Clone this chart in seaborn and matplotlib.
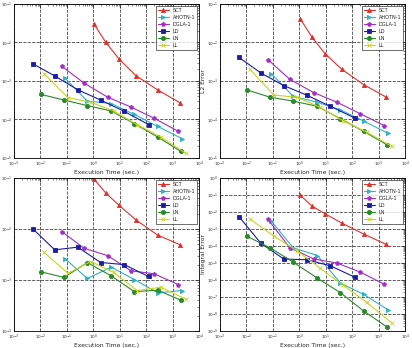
#! /usr/bin/env python3

import seaborn as sns
import pandas as pd
import numpy as np
import matplotlib
matplotlib.use('Agg')

import matplotlib.pyplot as plt
from matplotlib.ticker import LogLocator, NullFormatter

methods = ['SCT', 'AHOTN-1', 'DGLA-1', 'LD', 'LN', 'LL']

# execution times (sec.)
time_sct = [1.07, 2.95, 9.5, 41, 270, 1950]
time_ahotn = [0.087, 0.59, 4.8, 36, 275, 2240]
time_dgla = [0.065, 0.44, 3.5, 27, 204, 1660]
time_ld = [0.0052, 0.035, 0.26, 1.9, 15, 123]
time_ln = [0.0102, 0.078, 0.59, 4.8, 36, 275, 2090]
time_ll = [0.0135, 0.11, 0.79, 5.9, 45, 355, 3160]

# L1 error
l1_sct = [3.0e-2, 1.02e-2, 3.7e-3, 1.38e-3, 5.9e-4, 2.7e-4]
l1_ahotn = [1.17e-3, 3.0e-4, 2.6e-4, 1.35e-4, 6.6e-5, 3.2e-5]
l1_dgla = [2.4e-3, 8.9e-4, 3.8e-4, 2.1e-4, 1.07e-4, 4.9e-5]
l1_ld = [2.8e-3, 1.35e-3, 5.9e-4, 3.2e-4, 1.62e-4, 7.4e-5]
l1_ln = [4.5e-4, 3.2e-4, 2.3e-4, 1.66e-4, 7.8e-5, 3.5e-5, 1.48e-5]
l1_ll = [1.55e-3, 3.7e-4, 2.8e-4, 1.66e-4, 7.4e-5, 3.5e-5, 1.32e-5]

# L2 error
l2_sct = [4.2e-2, 1.41e-2, 5.1e-3, 2.0e-3, 8.1e-4, 3.8e-4]
l2_ahotn = [1.55e-3, 4.0e-4, 2.8e-4, 1.78e-4, 9.1e-5, 4.4e-5]
l2_dgla = [3.6e-3, 1.10e-3, 5.0e-4, 2.8e-4, 1.41e-4, 6.9e-5]
l2_ld = [4.1e-3, 1.62e-3, 7.6e-4, 4.3e-4, 2.2e-4, 1.10e-4]
l2_ln = [5.9e-4, 3.8e-4, 3.0e-4, 2.2e-4, 1.05e-4, 4.9e-5, 2.2e-5]
l2_ll = [2.0e-3, 4.3e-4, 3.8e-4, 2.1e-4, 9.3e-5, 4.7e-5, 2.0e-5]

# L-infinity error
linf_sct = [9.5e-2, 5.1e-2, 2.9e-2, 1.51e-2, 7.6e-3, 4.9e-3]
linf_ahotn = [2.6e-3, 1.07e-3, 1.78e-3, 1.02e-3, 5.6e-4, 6.2e-4]
linf_dgla = [8.9e-3, 4.2e-3, 3.0e-3, 1.51e-3, 1.32e-3, 8.1e-4]
linf_ld = [1.0e-2, 3.9e-3, 4.4e-3, 2.2e-3, 2.0e-3, 1.17e-3]
linf_ln = [1.45e-3, 1.12e-3, 2.2e-3, 1.20e-3, 5.9e-4, 6.3e-4, 4.0e-4]
linf_ll = [3.5e-3, 1.35e-3, 2.3e-3, 1.41e-3, 6.2e-4, 7.2e-4, 4.2e-4]

# integral error
int_sct = [1.0e-1, 2.3e-2, 7.8e-3, 2.2e-3, 5.1e-4, 1.23e-4]
int_ahotn = [2.9e-3, 7.8e-5, 2.75e-5, 6.6e-7, 1.41e-7, 1.78e-8]
int_dgla = [3.7e-3, 7.8e-5, 1.74e-5, 9.8e-6, 2.9e-6, 5.5e-7]
int_ld = [5.4e-3, 1.45e-4, 1.7e-5, 1.55e-5, 6.8e-6, 1.48e-6]
int_ln = [3.8e-4, 7.8e-5, 1.12e-5, 1.29e-6, 1.78e-7, 1.48e-8, 1.7e-9]
int_ll = [3.9e-3, 3.8e-4, 5.4e-5, 5.2e-6, 5.0e-7, 4.8e-8, 3.0e-9]

colors = {'SCT': '#e0302c', 'AHOTN-1': '#2fb3c4', 'DGLA-1': '#a22cc4',
          'LD': '#1c1ca8', 'LN': '#2a8a2a', 'LL': '#c8d41e'}
markers = {'SCT': '^', 'AHOTN-1': '>', 'DGLA-1': 'p', 'LD': 's', 'LN': 'o', 'LL': 'x'}


def build_frame(values):
    times = [time_sct, time_ahotn, time_dgla, time_ld, time_ln, time_ll]
    rows = []
    for m, t, v in zip(methods, times, values):
        for ti, vi in zip(t, v):
            rows.append({'method': m, 'time': ti, 'error': vi})
    return pd.DataFrame(rows)


def plot_panel(ax, data, ylabel, ylim):
    for m in methods:
        sub = data[data['method'] == m]
        sns.lineplot(data=sub, x='time', y='error', color=colors[m], label=m,
                     marker=markers[m], estimator=None, sort=False,
                     linewidth=0.8, markersize=3, markeredgewidth=0.6,
                     markeredgecolor=colors[m], ax=ax)
    ax.set_xscale('log')
    ax.set_yscale('log')
    ax.set_xlim(1e-3, 1e4)
    ax.set_ylim(*ylim)
    ax.xaxis.set_major_locator(LogLocator(base=10, numticks=20))
    ax.yaxis.set_major_locator(LogLocator(base=10, numticks=20))
    ax.xaxis.set_minor_locator(LogLocator(base=10, subs=np.arange(2, 10), numticks=20))
    ax.yaxis.set_minor_locator(LogLocator(base=10, subs=np.arange(2, 10), numticks=20))
    ax.xaxis.set_minor_formatter(NullFormatter())
    ax.yaxis.set_minor_formatter(NullFormatter())
    ax.grid(True, which='major', linestyle='--', color='#444444', linewidth=0.6)
    ax.tick_params(which='both', direction='in', top=True, right=True,
                   labelsize=3, pad=1.2)
    ax.tick_params(which='major', length=3, width=0.5)
    ax.tick_params(which='minor', length=1.5, width=0.4)
    for s in ax.spines.values():
        s.set_linewidth(0.6)
        s.set_color('black')
    ax.set_xlabel('Execution Time (sec.)', fontsize=4.3, labelpad=1)
    ax.set_ylabel(ylabel, fontsize=4.3, labelpad=0.5)
    leg = ax.legend(loc='upper right', fontsize=3.6, frameon=True, fancybox=False,
                    borderpad=0.4, labelspacing=0.4, handlelength=2.2,
                    borderaxespad=0.3)
    leg.get_frame().set_edgecolor('black')
    leg.get_frame().set_linewidth(0.5)


sns.set_style('white')
fig = plt.figure(figsize=(4.12, 3.48), dpi=100)
ax1 = fig.add_axes([0.034, 0.546, 0.449, 0.4425])
ax2 = fig.add_axes([0.534, 0.546, 0.449, 0.4425])
ax3 = fig.add_axes([0.034, 0.049, 0.449, 0.4395])
ax4 = fig.add_axes([0.534, 0.049, 0.449, 0.4395])

plot_panel(ax1, build_frame([l1_sct, l1_ahotn, l1_dgla, l1_ld, l1_ln, l1_ll]),
           'L1 Error', (1e-5, 1e-1))
plot_panel(ax2, build_frame([l2_sct, l2_ahotn, l2_dgla, l2_ld, l2_ln, l2_ll]),
           'L2 Error', (1e-5, 1e-1))
plot_panel(ax3, build_frame([linf_sct, linf_ahotn, linf_dgla, linf_ld, linf_ln, linf_ll]),
           r'$L_\infty$ Error', (1e-4, 1e-1))
plot_panel(ax4, build_frame([int_sct, int_ahotn, int_dgla, int_ld, int_ln, int_ll]),
           'Integral Error', (1e-9, 1e0))

plt.savefig('out.png', dpi=100)
